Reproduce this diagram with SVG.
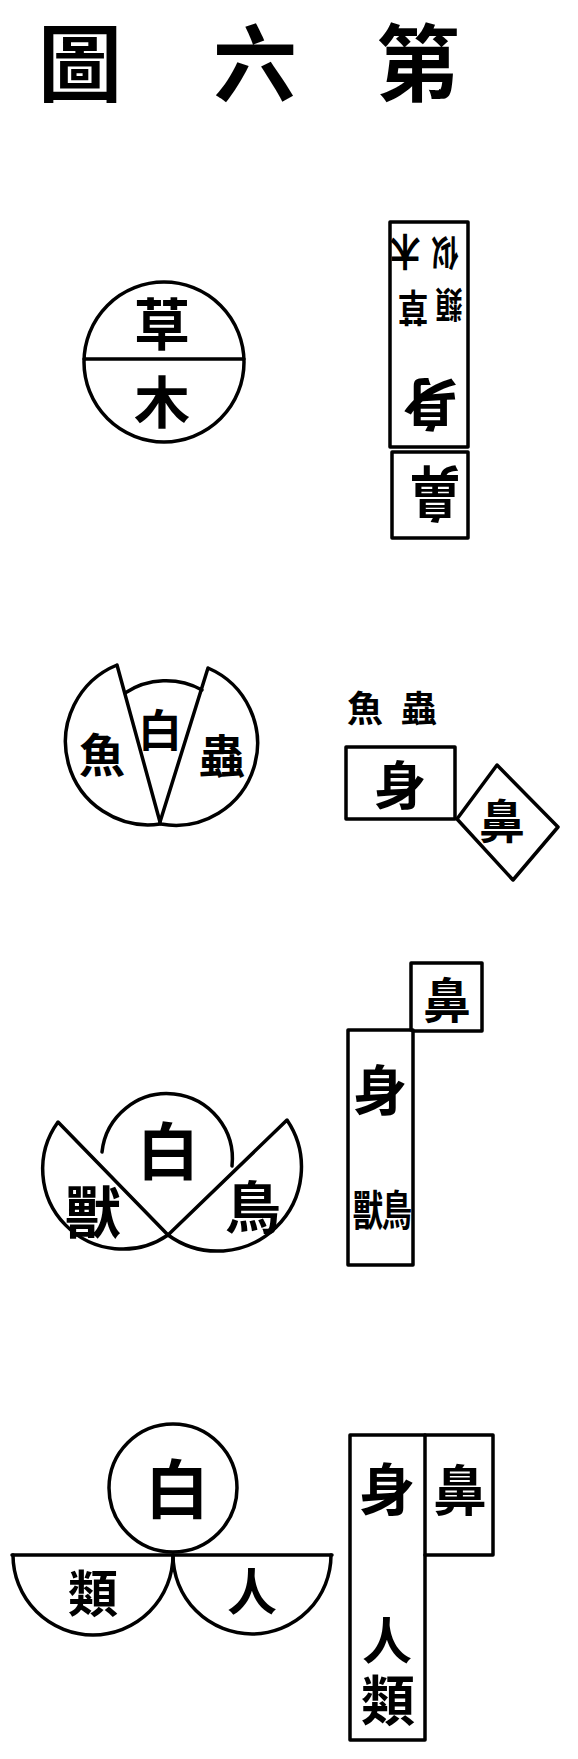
<svg xmlns="http://www.w3.org/2000/svg" width="578" height="1759" viewBox="0 0 578 1759">
<style>
.t{font-family:"Noto Sans CJK TC","Noto Sans CJK SC",sans-serif;font-weight:700;fill:#000;text-anchor:middle;dominant-baseline:central}
.s{fill:none;stroke:#000;stroke-width:3.5;stroke-linejoin:round;stroke-linecap:round}
</style>
<rect width="578" height="1759" fill="#fff"/>
<g id="title">
<text class="t" x="80" y="58" font-size="84" font-weight="900">圖</text>
<text class="t" x="255" y="58" font-size="84" font-weight="900">六</text>
<text class="t" x="418" y="58" font-size="84" font-weight="900">第</text>
</g>
<g id="fig1-circle">
<circle class="s" cx="164" cy="362" r="80"/>
<line class="s" x1="84" y1="359" x2="244" y2="359"/>
<text class="t" x="162" y="320" font-size="56">草</text>
<text class="t" x="162" y="398" font-size="56">木</text>
</g>
<g id="fig1-box">
<rect class="s" x="390" y="222" width="78" height="225"/>
<rect class="s" x="392" y="452" width="76" height="86"/>
<text class="t" font-size="38" transform="translate(405,255) rotate(180) scale(0.8,1)">木</text>
<text class="t" font-size="38" transform="translate(413,311) rotate(180) scale(0.8,1)">草</text>
<text class="t" font-size="36" transform="translate(445,255) rotate(180) scale(0.75,1)">似</text>
<text class="t" font-size="36" transform="translate(449,307) rotate(180) scale(0.75,1)">類</text>
<text class="t" font-size="56" transform="translate(430,408) rotate(180)">身</text>
<text class="t" font-size="60" transform="translate(435,497) rotate(180) scale(0.85,1)">鼻</text>
</g>
<g id="fig2-circle">
<path class="s" d="M160,822 L117,665 A83,83 0 0,0 160,824"/>
<path class="s" d="M160,822 L208,668 A82,82 0 0,1 161,824"/>
<path class="s" d="M125,693 A75,75 0 0,1 202,690"/>
<text class="t" x="102" y="752" font-size="46">魚</text>
<text class="t" x="160" y="728" font-size="44">白</text>
<text class="t" x="222" y="753" font-size="46">蟲</text>
</g>
<g id="fig2-box">
<text class="t" x="365" y="706" font-size="36">魚</text>
<text class="t" x="419" y="706" font-size="36">蟲</text>
<rect class="s" x="346" y="747" width="109" height="72"/>
<text class="t" x="400" y="782" font-size="52">身</text>
<polygon class="s" points="457,819 497,765 558,827 513,880"/>
<text class="t" x="502" y="818" font-size="46">鼻</text>
</g>
<g id="fig3-circle">
<path class="s" d="M168,1235 L58,1122 A80,80 0 0,0 168,1235"/>
<path class="s" d="M168,1235 L287,1120 A84,84 0 0,1 168,1235"/>
<path class="s" d="M102,1152 A65,65 0 1,1 232,1166"/>
<text class="t" x="168" y="1148" font-size="62">白</text>
<text class="t" x="93" y="1208" font-size="56">獸</text>
<text class="t" x="253" y="1203" font-size="56">鳥</text>
</g>
<g id="fig3-box">
<rect class="s" x="348" y="1030" width="65" height="235"/>
<path class="s" d="M411,1030 V963 H482 V1031 H413"/>
<text class="t" x="447" y="997" font-size="48">鼻</text>
<text class="t" x="380" y="1087" font-size="54">身</text>
<text class="t" font-size="32" transform="translate(368,1208) scale(0.95,1.3)">獸</text>
<text class="t" font-size="32" transform="translate(397,1208) scale(0.95,1.3)">鳥</text>
</g>
<g id="fig4-circle">
<circle class="s" cx="173" cy="1488" r="64"/>
<line class="s" x1="12" y1="1555" x2="332" y2="1555"/>
<path class="s" d="M13,1555 A80,80 0 0,0 173,1555"/>
<path class="s" d="M173,1555 A79,79 0 0,0 331,1555"/>
<text class="t" x="177" y="1485" font-size="64">白</text>
<text class="t" x="93" y="1590" font-size="50">類</text>
<text class="t" x="252" y="1588" font-size="50">人</text>
</g>
<g id="fig4-box">
<rect class="s" x="350" y="1435" width="75" height="305"/>
<path class="s" d="M425,1435 H493 V1555 H425"/>
<text class="t" x="387" y="1485" font-size="56">身</text>
<text class="t" x="460" y="1487" font-size="54">鼻</text>
<text class="t" x="387" y="1637" font-size="50">人</text>
<text class="t" x="388" y="1697" font-size="54">類</text>
</g>
</svg>
